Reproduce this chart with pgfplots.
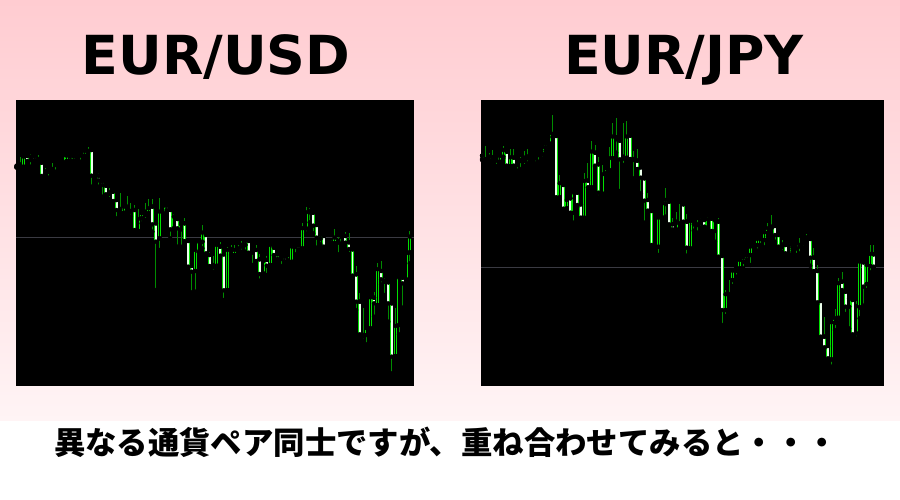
\documentclass[border=0pt]{standalone}
\usepackage{pgfplots}
\pgfplotsset{compat=1.18}
\usepackage{pgfplotstable}
\usepackage{fontspec}
\newfontfamily\titlefont{DejaVu Sans}
\newfontfamily\cjk{Noto Sans CJK JP}

\definecolor{wick}{RGB}{0,140,0}
\definecolor{edge}{RGB}{0,225,0}
\definecolor{bodyw}{RGB}{235,255,235}
\definecolor{bgtop}{RGB}{255,204,209}
\definecolor{bgbot}{RGB}{255,244,245}
\definecolor{midline}{RGB}{58,58,66}

% EUR/USD candles: index, open, high, low, close
\pgfplotstableread{
i o h l c
0 1.0904 1.0912 1.0902 1.0908
1 1.0905 1.0935 1.0905 1.0912
2 1.0905 1.0937 1.0904 1.0935
3 1.0937 1.0940 1.0920 1.0922
4 1.0925 1.0942 1.0905 1.0935
5 1.0937 1.0938 1.0922 1.0925
6 1.0928 1.0940 1.0918 1.0920
7 1.0917 1.0920 1.0875 1.0877
8 1.0885 1.0900 1.0880 1.0892
9 1.0890 1.0905 1.0872 1.0900
10 1.0892 1.0915 1.0888 1.0898
11 1.0910 1.0918 1.0890 1.0915
12 1.0907 1.0922 1.0905 1.0917
13 1.0918 1.0942 1.0915 1.0938
14 1.0922 1.0942 1.0918 1.0938
15 1.0937 1.0940 1.0915 1.0925
16 1.0922 1.0940 1.0920 1.0935
17 1.0938 1.0950 1.0935 1.0948
18 1.0945 1.0948 1.0920 1.0938
19 1.0938 1.0955 1.0935 1.0952
20 1.0952 1.0965 1.0945 1.0948
21 1.0955 1.0960 1.0845 1.0878
22 1.0875 1.0885 1.0870 1.0882
23 1.0878 1.0885 1.0845 1.0864
24 1.0862 1.0862 1.0815 1.0850
25 1.0848 1.0850 1.0820 1.0822
26 1.0824 1.0840 1.0808 1.0828
27 1.0830 1.0832 1.0797 1.0802
28 1.0805 1.0805 1.0750 1.0775
29 1.0778 1.0825 1.0765 1.0768
30 1.0767 1.0785 1.0765 1.0785
31 1.0780 1.0817 1.0770 1.0785
32 1.0772 1.0795 1.0755 1.0768
33 1.0775 1.0790 1.0712 1.0715
34 1.0713 1.0778 1.0712 1.0748
35 1.0750 1.0765 1.0735 1.0765
36 1.0760 1.0795 1.0745 1.0770
37 1.0765 1.0808 1.0765 1.0780
38 1.0785 1.0808 1.0710 1.0732
39 1.0735 1.0735 1.0535 1.0680
40 1.0690 1.0810 1.0655 1.0770
41 1.0765 1.0787 1.0760 1.0787
42 1.0788 1.0793 1.0770 1.0775
43 1.0775 1.0775 1.0690 1.0717
44 1.0720 1.0762 1.0715 1.0755
45 1.0748 1.0748 1.0665 1.0720
46 1.0717 1.0732 1.0665 1.0732
47 1.0735 1.0752 1.0680 1.0682
48 1.0682 1.0682 1.0602 1.0605
49 1.0607 1.0607 1.0528 1.0590
50 1.0592 1.0662 1.0530 1.0655
51 1.0648 1.0682 1.0648 1.0680
52 1.0680 1.0730 1.0660 1.0707
53 1.0700 1.0700 1.0640 1.0645
54 1.0640 1.0650 1.0605 1.0607
55 1.0605 1.0638 1.0590 1.0610
56 1.0608 1.0672 1.0605 1.0670
57 1.0665 1.0680 1.0635 1.0638
58 1.0642 1.0645 1.0505 1.0534
59 1.0535 1.0663 1.0532 1.0655
60 1.0657 1.0670 1.0640 1.0650
61 1.0640 1.0670 1.0632 1.0655
62 1.0650 1.0670 1.0648 1.0660
63 1.0670 1.0682 1.0650 1.0665
64 1.0670 1.0685 1.0650 1.0682
65 1.0682 1.0682 1.0645 1.0647
66 1.0648 1.0657 1.0610 1.0657
67 1.0655 1.0670 1.0620 1.0622
68 1.0627 1.0642 1.0563 1.0583
69 1.0585 1.0628 1.0578 1.0622
70 1.0625 1.0638 1.0580 1.0608
71 1.0610 1.0670 1.0608 1.0670
72 1.0662 1.0662 1.0638 1.0640
73 1.0642 1.0645 1.0620 1.0628
74 1.0628 1.0640 1.0607 1.0635
75 1.0635 1.0640 1.0610 1.0622
76 1.0623 1.0635 1.0607 1.0619
77 1.0620 1.0665 1.0618 1.0665
78 1.0665 1.0672 1.0642 1.0670
79 1.0670 1.0670 1.0652 1.0658
80 1.0660 1.0735 1.0655 1.0720
81 1.0720 1.0785 1.0705 1.0768
82 1.0772 1.0782 1.0738 1.0768
83 1.0767 1.0767 1.0705 1.0728
84 1.0730 1.0730 1.0662 1.0692
85 1.0688 1.0705 1.0672 1.0700
86 1.0697 1.0697 1.0663 1.0665
87 1.0670 1.0682 1.0665 1.0678
88 1.0677 1.0685 1.0670 1.0673
89 1.0675 1.0717 1.0675 1.0692
90 1.0682 1.0695 1.0642 1.0677
91 1.0675 1.0695 1.0670 1.0692
92 1.0697 1.0708 1.0675 1.0677
93 1.0678 1.0705 1.0643 1.0658
94 1.0657 1.0660 1.0577 1.0578
95 1.0582 1.0607 1.0475 1.0500
96 1.0500 1.0525 1.0400 1.0402
97 1.0400 1.0482 1.0383 1.0396
98 1.0400 1.0420 1.0372 1.0420
99 1.0420 1.0513 1.0408 1.0513
100 1.0512 1.0530 1.0455 1.0495
101 1.0490 1.0615 1.0488 1.0597
102 1.0592 1.0622 1.0552 1.0567
103 1.0560 1.0570 1.0520 1.0563
104 1.0558 1.0560 1.0440 1.0495
105 1.0495 1.0497 1.0285 1.0335
106 1.0337 1.0480 1.0325 1.0427
107 1.0430 1.0575 1.0402 1.0572
108 1.0572 1.0572 1.0482 1.0555
109 1.0567 1.0650 1.0555 1.0645
110 1.0648 1.0712 1.0615 1.0695
}\usd

% EUR/JPY candles: index, open, high, low, close
\pgfplotstableread{
i o h l c
0 158.63 158.70 158.50 158.53
1 158.52 158.92 158.37 158.45
2 158.48 158.72 158.40 158.60
3 158.58 158.80 158.52 158.54
4 158.53 158.60 158.32 158.48
5 158.45 158.65 158.43 158.62
6 158.60 158.92 158.55 158.80
7 158.75 158.77 158.32 158.33
8 158.32 158.82 158.28 158.58
9 158.57 158.82 158.32 158.33
10 158.35 158.50 158.18 158.45
11 158.47 158.60 158.23 158.50
12 158.48 158.77 158.32 158.57
13 158.60 158.82 158.40 158.55
14 158.54 158.60 158.50 158.57
15 158.55 158.65 158.40 158.62
16 158.65 158.75 158.45 158.70
17 158.68 158.90 158.55 158.88
18 158.88 159.03 158.78 159.00
19 159.00 159.32 158.98 159.30
20 159.28 159.85 159.18 159.20
21 159.22 159.23 157.37 157.38
22 157.38 158.05 157.36 157.80
23 157.75 157.78 157.02 157.04
24 157.05 157.35 156.95 157.30
25 157.35 157.40 156.90 156.92
26 156.92 157.55 156.62 157.52
27 157.52 157.55 157.10 157.15
28 157.17 157.20 156.75 156.77
29 156.77 158.10 156.68 157.87
30 157.88 158.40 157.67 157.68
31 157.68 159.08 157.67 158.75
32 158.72 158.95 158.30 158.33
33 158.37 158.60 157.38 157.52
34 157.50 158.35 157.40 158.07
35 158.07 158.20 158.05 158.10
36 158.20 158.88 158.10 158.55
37 158.55 159.60 158.55 159.20
38 159.18 159.75 158.72 159.12
39 159.08 159.10 157.57 158.52
40 158.55 159.60 158.35 158.60
41 158.57 159.67 158.55 159.20
42 159.23 159.25 158.52 158.53
43 158.50 158.77 157.95 158.53
44 158.48 158.82 158.22 158.23
45 158.28 158.30 157.50 157.97
46 157.95 157.97 156.62 157.28
47 157.30 157.52 156.97 156.98
48 156.97 157.02 155.88 155.95
49 155.95 155.97 155.87 155.88
50 155.90 156.80 155.65 156.77
51 156.78 157.25 156.77 157.20
52 157.18 157.65 156.80 157.30
53 157.25 157.28 156.47 156.57
54 156.57 156.75 156.38 156.42
55 156.42 156.95 156.35 156.65
56 156.58 157.18 156.58 156.60
57 157.17 157.22 156.63 156.65
58 156.65 156.88 155.63 155.87
59 155.85 156.72 155.83 156.67
60 156.63 156.65 156.38 156.57
61 156.55 156.70 156.32 156.57
62 156.62 156.75 156.48 156.70
63 156.70 156.72 156.48 156.50
64 156.48 156.78 156.45 156.72
65 156.74 156.80 156.33 156.37
66 156.37 156.70 156.05 156.68
67 156.65 156.75 155.58 155.60
68 155.62 155.63 153.55 154.00
69 154.00 154.60 153.82 154.47
70 154.45 154.90 154.45 154.48
71 154.90 155.22 154.72 155.18
72 155.18 155.30 155.00 155.28
73 155.25 155.50 155.20 155.50
74 155.45 155.60 155.25 155.58
75 155.50 155.65 155.45 155.63
76 155.65 155.92 155.35 155.90
77 155.92 156.00 155.90 155.95
78 155.95 156.18 155.78 156.13
79 156.13 156.20 155.95 156.17
80 156.10 156.38 155.88 156.33
81 156.32 156.60 156.20 156.45
82 156.47 156.85 156.45 156.50
83 156.52 156.55 156.05 156.25
84 156.25 156.25 155.88 155.90
85 155.90 156.10 155.75 155.97
86 155.95 156.02 155.68 155.70
87 155.67 156.00 155.65 155.95
88 155.88 155.95 155.75 155.82
89 155.85 156.05 155.65 156.00
90 155.95 156.15 155.70 155.90
91 155.86 155.95 155.85 155.88
92 156.17 156.28 156.05 156.13
93 156.13 156.15 155.33 155.57
94 155.57 155.85 155.15 155.17
95 155.17 155.35 154.18 154.23
96 154.27 154.28 153.15 153.20
97 153.20 153.80 152.85 152.88
98 152.92 152.95 152.52 152.55
99 152.52 153.65 152.30 153.63
100 153.62 154.02 153.40 153.75
101 153.77 154.95 153.63 154.80
102 154.85 155.13 154.55 154.60
103 154.55 154.57 153.88 154.10
104 154.10 154.37 153.45 154.35
105 154.30 154.32 153.25 153.27
106 153.30 154.27 153.15 154.12
107 154.08 155.50 153.75 155.45
108 155.43 155.45 154.13 154.70
109 154.78 155.37 154.60 155.35
110 155.32 155.95 155.13 155.68
111 155.67 155.95 155.28 155.30
}\jpy

\pgfplotsset{
  chart/.style={anchor=south west, scale only axis, height=286bp,
    axis background/.style={fill=black}, axis line style={draw=none},
    ytick=\empty, xtick=\empty, clip=true},
  bars/.style={only marks, mark=none, forget plot,
    error bars/y dir=plus, error bars/y explicit, error bars/error mark=none},
}

% wicks, body outline, black inside, then white inside for falling candles
\newcommand\candles[1]{%
  \addplot[bars, error bars/error bar style={color=wick, line width=0.9bp}]
    table[x=i, y=l, y error plus expr={\thisrow{h}-\thisrow{l}}] {#1};
  \addplot[bars, error bars/error bar style={color=edge, line width=3bp}]
    table[x=i, y=o, y error plus expr={\thisrow{c}-\thisrow{o}}] {#1};
  \addplot[bars, error bars/error bar style={color=black, line width=1.4bp}]
    table[x=i, y=o, y error plus expr={\thisrow{c}-\thisrow{o}}] {#1};
  \addplot[bars, error bars/error bar style={color=bodyw, line width=1.9bp}]
    table[x=i, y=c, y error plus expr={max(\thisrow{o}-\thisrow{c},0)}] {#1};
}

\begin{document}
\begin{tikzpicture}[x=1bp, y=1bp]
  \useasboundingbox (0,0) rectangle (900,500);
  \fill[white] (0,0) rectangle (900,80);
  \shade[top color=bgtop, bottom color=bgbot] (0,79) rectangle (900,500);

  \node[anchor=base, font=\titlefont\bfseries\fontsize{54}{60}\selectfont] at (216,425) {EUR/USD};
  \node[anchor=base, font=\titlefont\bfseries\fontsize{54}{60}\selectfont] at (684,425) {EUR/JPY};

  \begin{axis}[chart, at={(16bp,114bp)}, width=398bp,
      xmin=-0.15, xmax=111.2, ymin=1.0247, ymax=1.1105]
    \addplot[forget plot, color=midline, line width=0.8bp] coordinates {(-0.15,1.0694) (111.2,1.0694)};
    \candles{\usd}
  \end{axis}

  \begin{axis}[chart, at={(481bp,114bp)}, width=403bp,
      xmin=-0.3, xmax=113.9, ymin=151.72, ymax=160.30]
    \addplot[forget plot, color=midline, line width=0.8bp] coordinates {(-0.3,155.29) (113.9,155.29)};
    \candles{\jpy}
  \end{axis}

  \node[anchor=base, font=\cjk\bfseries\fontsize{31.5}{36}\selectfont] at (446,45)
    {異なる通貨ペア同士ですが、重ね合わせてみると・・・};
\end{tikzpicture}
\end{document}
